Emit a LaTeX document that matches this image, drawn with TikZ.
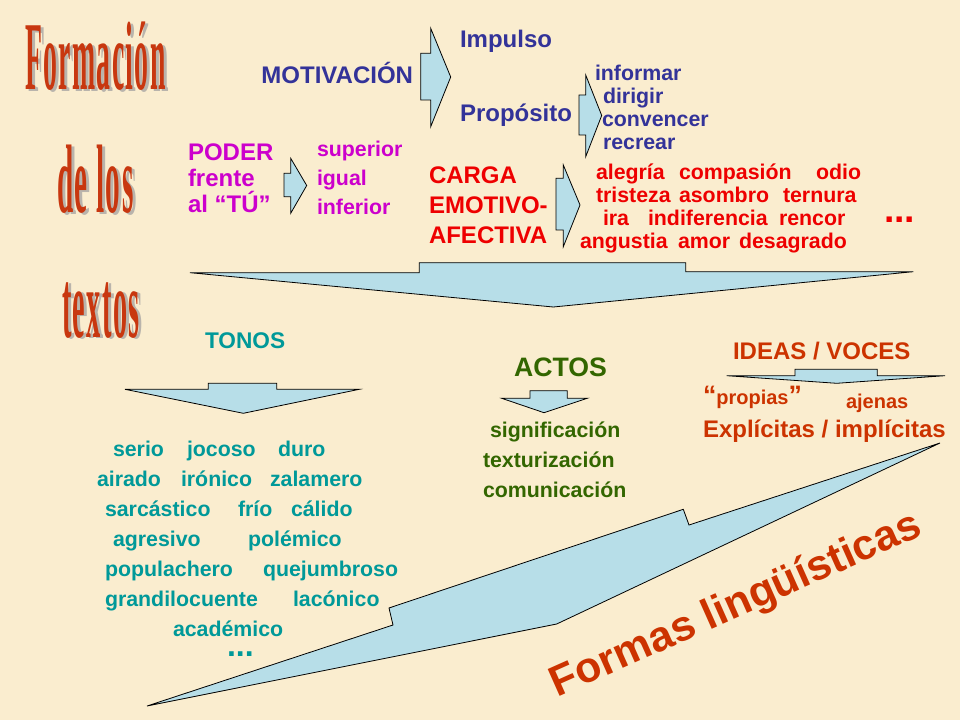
\documentclass[tikz,border=0pt]{standalone}
\usepackage{fontspec}
\setmainfont{Liberation Sans}
\newfontfamily\titlefont[LetterSpace=5]{Liberation Serif}
\newcommand\fsz[1]{\fontsize{#1}{#1}\selectfont}
\definecolor{bgc}{RGB}{250,237,207}
\definecolor{arrowc}{RGB}{183,222,232}
\definecolor{navyc}{RGB}{51,51,153}
\definecolor{magc}{RGB}{204,0,204}
\definecolor{redc}{RGB}{238,0,0}
\definecolor{tonosc}{RGB}{0,153,153}
\definecolor{actosc}{RGB}{51,102,0}
\definecolor{ideasc}{RGB}{204,51,0}
\definecolor{titlec}{RGB}{200,55,15}
\definecolor{shadowc}{RGB}{185,180,172}
\begin{document}
\begin{tikzpicture}[x=0.75pt,y=-0.75pt,
  blockarrow/.style={fill=arrowc, draw=black, line width=0.6pt, line join=miter},
  lbl/.style={anchor=base west, inner sep=0pt, outer sep=0pt, font=\bfseries},
  navytxt/.style={lbl, text=navyc},
  magtxt/.style={lbl, text=magc},
  redtxt/.style={lbl, text=redc, font=\bfseries\fsz{16}},
  tontxt/.style={lbl, text=tonosc, font=\bfseries\fsz{16}},
  acttxt/.style={lbl, text=actosc, font=\bfseries\fsz{16}},
  idtxt/.style={lbl, text=ideasc},
  ttl/.style={lbl, text=titlec, font=\bfseries\titlefont\fsz{73}},
  ttlshadow/.style={lbl, text=shadowc, font=\bfseries\titlefont\fsz{73}}
]
\useasboundingbox (0,0) rectangle (960,720);
\fill[bgc] (0,0) rectangle (960,720);

% ---------- title ----------
\node[ttlshadow] (t1s) at (28,92) {\scalebox{0.285}[1]{Formación}};
\node[ttl] (t1) at (25,90) {\scalebox{0.285}[1]{Formación}};
\node[ttlshadow] (t2s) at (60,215) {\scalebox{0.3}[1]{de los}};
\node[ttl] (t2) at (57,213) {\scalebox{0.3}[1]{de los}};
\node[ttlshadow] (t3s) at (65,339) {\scalebox{0.29}[1]{textos}};
\node[ttl] (t3) at (62,337) {\scalebox{0.29}[1]{textos}};

% ---------- arrows ----------
\draw[blockarrow] (420.7,53.3) -- (430.7,53.3) -- (430.7,28.3) -- (450.7,77) -- (430.7,126.7) -- (430.7,100) -- (420.7,100) -- cycle;
\draw[blockarrow] (579,95) -- (585.7,95) -- (585.7,75) -- (601.7,115.5) -- (585.7,156.7) -- (585.7,135) -- (579,135) -- cycle;
\draw[blockarrow] (284,173.3) -- (290.7,173.3) -- (290.7,158.3) -- (306.7,185.5) -- (290.7,213.3) -- (290.7,196.7) -- (284,196.7) -- cycle;
\draw[blockarrow] (556,178.3) -- (563.3,178.3) -- (563.3,165) -- (580,205) -- (563.3,246.7) -- (563.3,230) -- (556,230) -- cycle;
\draw[blockarrow] (190,272.7) -- (419.3,272.7) -- (419.3,262.7) -- (685.7,262.7) -- (685.7,271.7) -- (913.3,271.7) -- (553.3,307) -- cycle;
\draw[blockarrow] (125,389.3) -- (208.3,389.3) -- (208.3,383.3) -- (276.7,383.3) -- (276.7,389.3) -- (359.3,389.3) -- (243.3,413.3) -- cycle;
\draw[blockarrow] (501.7,398.3) -- (530,398.3) -- (530,390.7) -- (567.3,390.7) -- (567.3,398.3) -- (587.3,398.3) -- (544,412.7) -- cycle;
\draw[blockarrow] (726.7,375.7) -- (795,375.7) -- (795,369.3) -- (877.3,369.3) -- (877.3,375.7) -- (945,375.7) -- (836.7,383.3) -- cycle;
\draw[blockarrow] (147,706) -- (393,625) -- (389,608) -- (683.3,509.3) -- (689,525) -- (940,443) -- (556.7,624) -- cycle;

% ---------- motivation ----------
\node[navytxt, anchor=base east, font=\bfseries\fsz{18}] (motiv) at (413,84) {MOTIVACIÓN};
\node[navytxt, font=\bfseries\fsz{18}] (impulso) at (460,48) {Impulso};
\node[navytxt, font=\bfseries\fsz{18}] (proposito) at (460,122) {Propósito};
\node[navytxt, font=\bfseries\fsz{16}] (informar) at (595,81) {informar};
\node[navytxt, font=\bfseries\fsz{16}] (dirigir) at (603,104) {dirigir};
\node[navytxt, font=\bfseries\fsz{16}] (convencer) at (602,127) {convencer};
\node[navytxt, font=\bfseries\fsz{16}] (recrear) at (603,150) {recrear};

% ---------- poder ----------
\node[magtxt, font=\bfseries\fsz{18}] (poder) at (188,161) {PODER};
\node[magtxt, font=\bfseries\fsz{18}] (frente) at (188,187) {frente};
\node[magtxt, font=\bfseries\fsz{18}] (altu) at (188,213) {al “TÚ”};
\node[magtxt, font=\bfseries\fsz{16}] (superior) at (317,157) {superior};
\node[magtxt, font=\bfseries\fsz{16}] (igual) at (317,186) {igual};
\node[magtxt, font=\bfseries\fsz{16}] (inferior) at (317,215) {inferior};

% ---------- carga emotivo-afectiva ----------
\node[lbl, text=redc, font=\bfseries\fsz{18}] (carga) at (429,184) {CARGA};
\node[lbl, text=redc, font=\bfseries\fsz{18}] (emotivo) at (429,214) {EMOTIVO-};
\node[lbl, text=redc, font=\bfseries\fsz{18}] (afectiva) at (429,244) {AFECTIVA};
\node[redtxt] (e1) at (596,180) {alegría};
\node[redtxt] (e2) at (679,180) {compasión};
\node[redtxt] (e3) at (816,180) {odio};
\node[redtxt] (e4) at (596,203) {tristeza};
\node[redtxt] (e5) at (679,203) {asombro};
\node[redtxt] (e6) at (783,203) {ternura};
\node[redtxt] (e7) at (603,226) {ira};
\node[redtxt] (e8) at (648,226) {indiferencia};
\node[redtxt] (e9) at (779,226) {rencor};
\node[redtxt] (e10) at (580,249) {angustia};
\node[redtxt] (e11) at (678,249) {amor};
\node[redtxt] (e12) at (739,249) {desagrado};
\node[lbl, text=redc, font=\bfseries\fsz{28}] (edots) at (884,223) {...};

% ---------- tonos ----------
\node[lbl, text=tonosc, font=\bfseries\fsz{17}] (tonos) at (205,349) {TONOS};
\node[tontxt] (o1) at (113,456) {serio};
\node[tontxt] (o2) at (187,456) {jocoso};
\node[tontxt] (o3) at (278,456) {duro};
\node[tontxt] (o4) at (97,486) {airado};
\node[tontxt] (o5) at (181,486) {irónico};
\node[tontxt] (o6) at (270,486) {zalamero};
\node[tontxt] (o7) at (105,516) {sarcástico};
\node[tontxt] (o8) at (238,516) {frío};
\node[tontxt] (o9) at (291,516) {cálido};
\node[tontxt] (o10) at (113,546) {agresivo};
\node[tontxt] (o11) at (248,546) {polémico};
\node[tontxt] (o12) at (105,576) {populachero};
\node[tontxt] (o13) at (263,576) {quejumbroso};
\node[tontxt] (o14) at (105,606) {grandilocuente};
\node[tontxt] (o15) at (293,606) {lacónico};
\node[tontxt] (o16) at (173,636) {académico};
\node[lbl, text=tonosc, font=\bfseries\fsz{24}] (odots) at (227,656) {...};

% ---------- actos ----------
\node[lbl, text=actosc, font=\bfseries\fsz{20}] (actos) at (514,376) {ACTOS};
\node[acttxt] (a1) at (490,437) {significación};
\node[acttxt] (a2) at (483,467) {texturización};
\node[acttxt] (a3) at (483,497) {comunicación};

% ---------- ideas / voces ----------
\node[idtxt, font=\bfseries\fsz{18}] (ideas) at (733,359) {IDEAS / VOCES};
\node[idtxt, font=\bfseries\fsz{20}] (propias) at (703,404) {“{\fsz{15}propias}”};
\node[idtxt, font=\bfseries\fsz{15}] (ajenas) at (846,408) {ajenas};
\node[idtxt, font=\bfseries\fsz{18}] (explicitas) at (703,437) {Explícitas / implícitas};

% ---------- formas lingüísticas ----------
\node[anchor=base, rotate=24, inner sep=0pt, text=ideasc, font=\bfseries\fsz{32}] (formas) at (741,616) {Formas lingüísticas};
\end{tikzpicture}
\end{document}
